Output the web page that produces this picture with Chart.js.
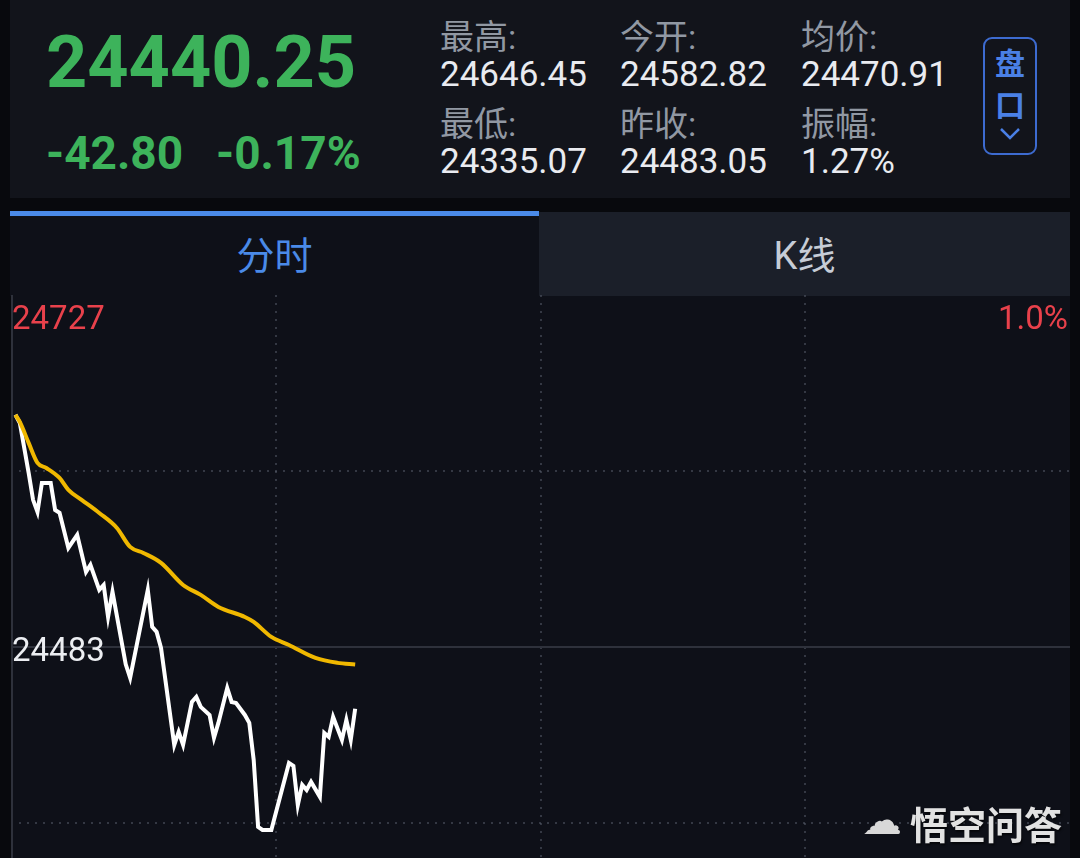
<!DOCTYPE html>
<html>
<head>
<meta charset="utf-8">
<script src="https://cdn.jsdelivr.net/npm/chart.js@4.4.0/dist/chart.umd.min.js"></script>
<style>
  html, body { margin: 0; padding: 0; }
  body {
    width: 1080px; height: 858px; overflow: hidden; position: relative;
    background: #08090d;
    font-family: Roboto, "Noto Sans CJK SC", sans-serif;
  }
  .abs { position: absolute; line-height: 1; white-space: nowrap; }
  .hdr { position: absolute; left: 10px; top: 0; width: 1060px; height: 198px; background: #12141b; }
  .lbl { color: #9198a3; font-size: 34px; }
  .val { color: #e9ebf0; font-size: 35px; }
  .green { color: #3db35b; }
  .btn {
    position: absolute; left: 983px; top: 37px; width: 50px; height: 114px;
    border: 2px solid #3d6bd0; border-radius: 9px; color: #4a80e6;
    font-family: "Noto Sans CJK SC", sans-serif; font-size: 30px; font-weight: 700;
    text-align: center;
  }
  .tabbar { position: absolute; left: 10px; top: 211px; width: 529px; height: 5px; background: #4a8ae8; }
  .tab1 { position: absolute; left: 10px; top: 216px; width: 529px; height: 80px; background: #0e1018; }
  .tab2 { position: absolute; left: 539px; top: 212px; width: 531px; height: 84px; background: #1b1f29; }
  .tabtxt { position: absolute; width: 100%; text-align: center; font-size: 38px; line-height: 1; }
  .panel { position: absolute; left: 11px; top: 296px; width: 1059px; height: 562px; background: #0e1018; }
  #wrap { position: absolute; left: 11px; top: 295px; width: 1059px; height: 704px; }
  .mark { color: #e2e2e2; font-size: 38px; font-family: "Noto Sans CJK SC", sans-serif; font-weight: 700;
          text-shadow: 1px 2px 2px rgba(0,0,0,0.6); }
</style>
</head>
<body>

<div class="hdr"></div>
<div class="abs green" style="left:46px; top:27px; font-size:72px; font-weight:700;">24440.25</div>
<div class="abs green" style="left:46px; top:130px; font-size:46px; font-weight:700;">-42.80</div>
<div class="abs green" style="left:216px; top:130px; font-size:46px; font-weight:700;">-0.17%</div>

<div class="abs lbl" style="left:440px; top:20px;">最高:</div>
<div class="abs val" style="left:440px; top:57px;">24646.45</div>
<div class="abs lbl" style="left:440px; top:107px;">最低:</div>
<div class="abs val" style="left:440px; top:144px;">24335.07</div>

<div class="abs lbl" style="left:620px; top:20px;">今开:</div>
<div class="abs val" style="left:620px; top:57px;">24582.82</div>
<div class="abs lbl" style="left:620px; top:107px;">昨收:</div>
<div class="abs val" style="left:620px; top:144px;">24483.05</div>

<div class="abs lbl" style="left:801px; top:20px;">均价:</div>
<div class="abs val" style="left:801px; top:57px;">24470.91</div>
<div class="abs lbl" style="left:801px; top:107px;">振幅:</div>
<div class="abs val" style="left:801px; top:144px;">1.27%</div>

<div class="btn">
  <div class="abs" style="left:0; width:50px; top:7px;">盘</div>
  <div class="abs" style="left:0; width:50px; top:49px;">口</div>
  <svg class="abs" style="left:14px; top:88px;" width="22" height="14" viewBox="0 0 22 14">
    <polyline points="2,2 11,11 20,2" fill="none" stroke="#4a80e6" stroke-width="2.5"/>
  </svg>
</div>

<div class="tabbar"></div>
<div class="tab1"><div class="tabtxt" style="top:21px; color:#4a8ae8;">分时</div></div>
<div class="tab2"><div class="tabtxt" style="top:25px; color:#c6ccd6;">K线</div></div>

<div class="panel"></div>
<div id="wrap"><canvas id="line_chart"></canvas></div>

<div class="abs" style="left:862px; top:800px; font-size:40px; color:#d8d8d8; font-family:'DejaVu Sans';">☁</div>
<div class="abs mark" style="left:910px; top:804px;">悟空问答</div>

<script>
'use strict';

// Data (minutes since open, index points)
const prevClose = 24483.05;
const yMax = 24727;
const yMin = 24239;
const yTicks = [24239, 24361, 24483, 24605, 24727];
const xTicks = [0, 60, 120, 180, 240];

const priceTimes = [1, 2, 4, 5, 6, 7, 9, 10, 11, 13, 15, 17, 18, 20, 21, 22, 23, 26, 27, 31, 32,
  33, 34, 37, 38, 39, 41, 42, 43, 45, 46, 47, 49, 50, 51, 53, 54, 55, 56, 57, 59,
  63, 64, 65, 66, 67, 68, 70, 71, 72, 73, 75, 76, 77, 78];
const priceValues = [24644.0, 24638.3, 24603.7, 24585.0, 24576.6, 24596.7, 24596.7, 24578.0, 24576.0, 24551.7,
  24560.7, 24535.0, 24539.9, 24522.6, 24526.0, 24503.9, 24521.2, 24471.0, 24461.6, 24522.6, 24496.9,
  24493.5, 24482.4, 24415.1, 24424.1, 24415.1, 24444.9, 24448.4, 24441.5, 24435.9, 24420.0,
  24430.4, 24454.6, 24444.9, 24444.2, 24435.9, 24430.4, 24404.7, 24358.3, 24356.2, 24356.2,
  24402.6, 24400.6, 24373.5, 24387.4, 24383.9, 24389.5, 24379.1, 24423.4, 24420.7, 24434.5,
  24418.6, 24432.4, 24418.6, 24440.25];

const avgTimes = [1, 2, 4, 6, 8, 11, 13, 16, 20, 24, 27, 30, 34, 39, 43, 47, 53, 55, 59, 63, 69, 74, 78];
const avgValues = [24643.9, 24639.0, 24624.5, 24610.6, 24607.1, 24600.2, 24591.9, 24585.0, 24575.9, 24565.5,
  24552.4, 24548.2, 24541.3, 24526.0, 24519.1, 24510.8, 24503.8, 24500.4, 24490.0, 24484.4,
  24475.4, 24472.0, 24470.9];

function toPoints(times, values) {
  return times.map((t, i) => ({ x: t, y: values[i] }));
}

// Labels, previous close line and left border
const overlay = {
  id: 'overlay',
  beforeDatasetsDraw(chart) {
    const ctx = chart.ctx;
    const area = chart.chartArea;
    const y = chart.scales.y;
    ctx.save();
    ctx.strokeStyle = '#2e313b';
    ctx.lineWidth = 2;
    ctx.beginPath();
    ctx.moveTo(area.left, y.getPixelForValue(prevClose));
    ctx.lineTo(area.right, y.getPixelForValue(prevClose));
    ctx.moveTo(area.left + 1, area.top);
    ctx.lineTo(area.left + 1, area.bottom);
    ctx.stroke();

    ctx.font = '33px Roboto';
    ctx.textBaseline = 'middle';
    ctx.fillStyle = '#e8414b';
    ctx.textAlign = 'left';
    ctx.fillText(String(yMax), area.left + 1, y.getPixelForValue(yMax) + 26);
    ctx.textAlign = 'right';
    const pct = ((yMax - prevClose) / prevClose * 100).toFixed(1) + '%';
    ctx.fillText(pct, area.right - 2, y.getPixelForValue(yMax) + 26);
    ctx.textAlign = 'left';
    ctx.fillStyle = '#eceef2';
    ctx.fillText(String(Math.round(prevClose)), area.left + 1, y.getPixelForValue(prevClose) + 6);
    ctx.restore();
  }
};

// Line chart
const line = document.querySelector('#line_chart');
new Chart(line, {
  type: 'line',
  data: {
    datasets: [{
      label: '均价',
      data: toPoints(avgTimes, avgValues),
      borderColor: '#f0b800',
      borderWidth: 4,
      cubicInterpolationMode: 'monotone',
      tension: 0.4
    }, {
      label: '价格',
      data: toPoints(priceTimes, priceValues),
      borderColor: '#ffffff',
      borderWidth: 4,
      tension: 0
    }]
  },
  options: {
    responsive: true,
    maintainAspectRatio: false,
    animation: false,
    layout: { padding: 0 },
    elements: {
      point: { radius: 0 }
    },
    plugins: {
      legend: { display: false },
      tooltip: { enabled: false }
    },
    scales: {
      x: {
        type: 'linear',
        min: xTicks[0],
        max: xTicks[xTicks.length - 1],
        afterBuildTicks: (scale) => { scale.ticks = xTicks.map(v => ({ value: v })); },
        ticks: { display: false },
        border: { display: false, dash: [2, 6] },
        grid: {
          drawTicks: false,
          lineWidth: 2,
          color: (c) => (c.tick && (c.tick.value === 0 || c.tick.value === 240)) ? 'rgba(0,0,0,0)' : 'rgba(90,95,110,0.5)'
        }
      },
      y: {
        min: yMin,
        max: yMax,
        afterBuildTicks: (scale) => { scale.ticks = yTicks.map(v => ({ value: v })); },
        ticks: { display: false },
        border: { display: false, dash: [2, 6] },
        grid: {
          drawTicks: false,
          lineWidth: 2,
          color: (c) => (c.tick && (c.tick.value === 24605 || c.tick.value === 24361)) ? 'rgba(90,95,110,0.5)' : 'rgba(0,0,0,0)'
        }
      }
    }
  },
  plugins: [overlay]
});
</script>
</body>
</html>
